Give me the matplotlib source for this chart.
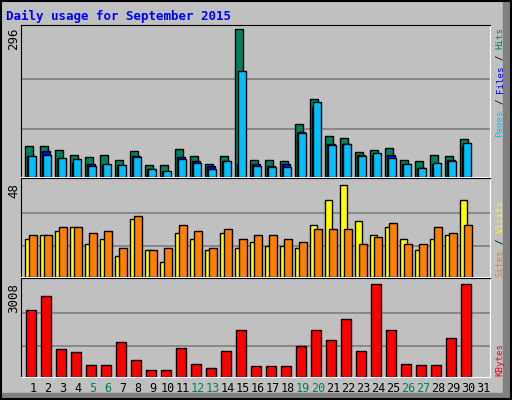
import matplotlib
matplotlib.use("Agg")
import matplotlib.pyplot as plt
from matplotlib.patches import Rectangle

days = list(range(1, 32))
hits  = [62,62,54,45,40,44,34,52,24,24,56,42,26,42,296,35,34,32,107,156,83,79,50,54,58,34,32,44,42,76]
files = [42,52,36,28,26,24,24,42,16,10,40,32,22,32,26,26,22,26,90,141,66,66,44,44,44,26,18,26,34,62]
pages = [42,44,38,36,22,26,24,40,16,12,36,28,16,32,212,22,20,20,88,150,64,66,42,48,38,26,18,28,32,68]
visits = [20,22,24,26,17,20,11,30,14,8,23,20,14,23,15,18,16,16,15,27,40,48,29,22,26,20,14,20,22,40]
sites  = [22,22,26,26,23,24,15,32,14,15,27,24,15,25,20,22,22,20,18,25,25,25,17,21,28,17,17,26,23,27]
kbytes = [2152,2613,900,801,373,373,1131,538,242,242,933,406,307,834,1526,340,340,340,999,1526,1197,1889,834,3008,1526,406,373,373,1263,3008]
weekend = [5,6,12,13,19,20,26,27]
max_labels = ["296", "48", "3008"]

W, H = 512, 400
fig = plt.figure(figsize=(5.12, 4.0), dpi=100, facecolor="#C0C0C0")
mono = "DejaVu Sans Mono"

def fx(px): return px / W
def fy(py): return 1 - py / H

fig.patches.append(Rectangle((fx(503), 0), fx(6), 1, transform=fig.transFigure, color="#808080", zorder=0))
fig.patches.append(Rectangle((0, fy(397)), 1, 4/H, transform=fig.transFigure, color="#808080", zorder=0))
fig.patches.append(Rectangle((0.002, 0.002), 0.996, 0.996, transform=fig.transFigure, fill=False, ec="black", lw=1.5, zorder=5))

L, R = 21, 490
def mkax(top, bot, ymax):
    ax = fig.add_axes([fx(L), fy(bot), fx(R - L), (bot - top) / H])
    ax.set_facecolor("#C0C0C0")
    ax.set_xlim(0.5, 0.5 + (R - L) / 15)
    ax.set_ylim(0, ymax)
    ax.set_xticks([]); ax.set_yticks([])
    for s in ["top", "left"]:
        ax.spines[s].set_color("black")
    for s in ["bottom", "right"]:
        ax.spines[s].set_color("white")
    for fr in (0.313, 0.646):
        ax.axhline(fr * ymax, color="#808080", lw=1.2, zorder=0)
    return ax

d = days[:30]
u = 1 / 15
ax1 = mkax(25, 177, 304)
ax1.bar([x - 0.233 for x in d], hits, width=8*u, align="edge", color="#00805C", ec="black", lw=1)
ax1.bar([x - 0.233 + 2*u for x in d], files, width=8*u, align="edge", color="#0000FF", ec="black", lw=1)
ax1.bar([x - 0.233 + 3*u for x in d], pages, width=8*u, align="edge", color="#00C0FF", ec="black", lw=1)

ax2 = mkax(178, 277, 51.6)
ax2.bar([x - 0.233 for x in d], visits, width=7*u, align="edge", color="#FFFF00", ec="black", lw=1)
ax2.bar([x - 0.233 + 4*u for x in d], sites, width=7.5*u, align="edge", color="#FF8000", ec="black", lw=1)

ax3 = mkax(278, 377, 3202)
ax3.bar([x - 0.233 + 1*u for x in d], kbytes, width=10*u, align="edge", color="#FF0000", ec="black", lw=1)

for dd in days:
    ax3.text(dd + 0.3, -0.12, str(dd), transform=ax3.get_xaxis_transform(), ha="center", va="center",
             family=mono, fontsize=8.5, color="#00805C" if dd in weekend else "black")

fig.text(fx(6), fy(16), "Daily usage for September 2015", family=mono, fontweight="bold",
         fontsize=9.0, color="#0000FF", ha="left", va="center")

for lab, ytop in zip(max_labels, [27, 183, 283]):
    fig.text(fx(14), fy(ytop), lab, rotation=90, ha="center", va="top", family=mono, fontsize=9)

def side(segs, ybottom, step=5.5, x=500):
    i = 0
    for txt, col in segs:
        s = txt.strip()
        off = txt.index(s[0])
        fig.text(fx(x), fy(ybottom - step * (i + off)), s, rotation=90, ha="center", va="bottom",
                 family=mono, fontsize=6.6, color=col)
        i += len(txt)

side([("Pages", "#00C0FF"), (" / ", "black"), ("Files", "#0000FF"), (" / ", "black"), ("Hits", "#00805C")], 137)
side([("Sites", "#FF8000"), (" / ", "black"), ("Visits", "#FFFF00")], 277)
side([("KBytes", "#FF0000")], 376)

fig.savefig("out.png", dpi=100, facecolor=fig.get_facecolor())
